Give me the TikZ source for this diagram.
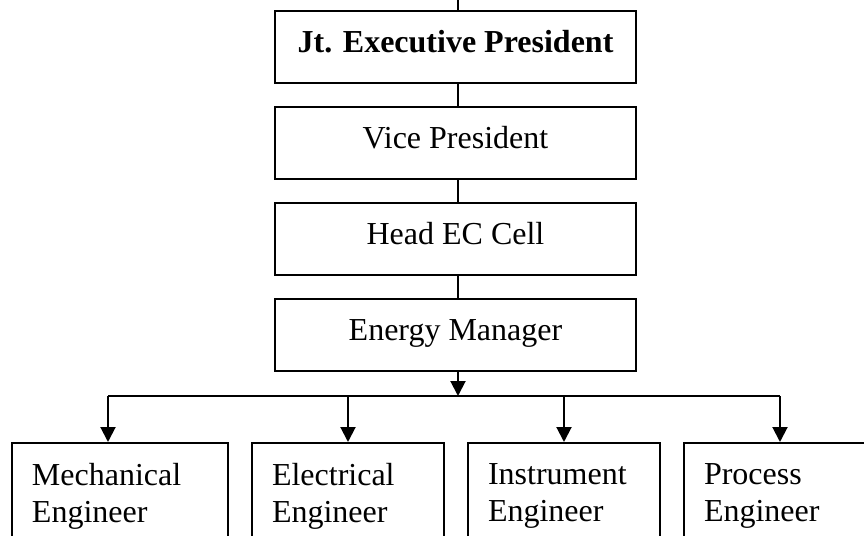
\documentclass[tikz,border=0pt]{standalone}
\usepackage{fontspec}
\setmainfont{Liberation Serif}
\usepackage{tikz}
\usetikzlibrary{arrows.meta}

\tikzset{
  upbox/.style={draw, line width=1pt, minimum width=180.5pt, minimum height=36pt,
    text height=10pt, text depth=5pt, inner sep=0pt},
  lowbox/.style={draw, line width=1pt, minimum height=53pt, align=left,
    inner xsep=10pt, inner ysep=0pt},
  link/.style={line width=1pt},
  arr/.style={line width=1pt, -{Triangle[width=7.5pt,length=7.5pt]}}
}

\begin{document}
\begin{tikzpicture}[x=0.5pt, y=-0.5pt, font=\fontsize{16}{18.5}\selectfont]
  \useasboundingbox (0,0) rectangle (864,536);
  \clip (0,0) rectangle (864,536);
  % chain of command
  \node[upbox] (jep) at (455.5,47) {\textbf{Jt. Executive President}};
  \node[upbox] (vp) at (455.5,143) {Vice President};
  \node[upbox] (head) at (455.5,239) {Head EC Cell};
  \node[upbox] (em) at (455.5,335) {Energy Manager};
  % engineers
  \node[lowbox, minimum width=108pt, text width=88pt] (mech) at (120,496) {Mechanical\\Engineer};
  \node[lowbox, minimum width=96pt, text width=76pt] (elec) at (348,496) {Electrical\\Engineer};
  \node[lowbox, minimum width=96pt, text width=76pt] (inst) at (564,496) {Instrument\\Engineer};
  \node[lowbox, minimum width=96pt, text width=76pt] (proc) at (780,496) {Process\\Engineer};
  \coordinate (root) at (458,0);
  \coordinate (bus) at (458,396);
  \coordinate (busL) at (108,396);
  \coordinate (busR) at (780,396);
  \draw[link] (root) -- (root |- jep.north);
  \draw[link] (root |- jep.south) -- (root |- vp.north);
  \draw[link] (root |- vp.south) -- (root |- head.north);
  \draw[link] (root |- head.south) -- (root |- em.north);
  \draw[arr] (root |- em.south) -- (bus);
  \draw[link] (busL) -- (busR);
  \draw[arr] (busL) -- (busL |- mech.north);
  \draw[arr] (bus -| elec.north) -- (elec.north);
  \draw[arr] (bus -| inst.north) -- (inst.north);
  \draw[arr] (busR) -- (proc.north);
\end{tikzpicture}
\end{document}
